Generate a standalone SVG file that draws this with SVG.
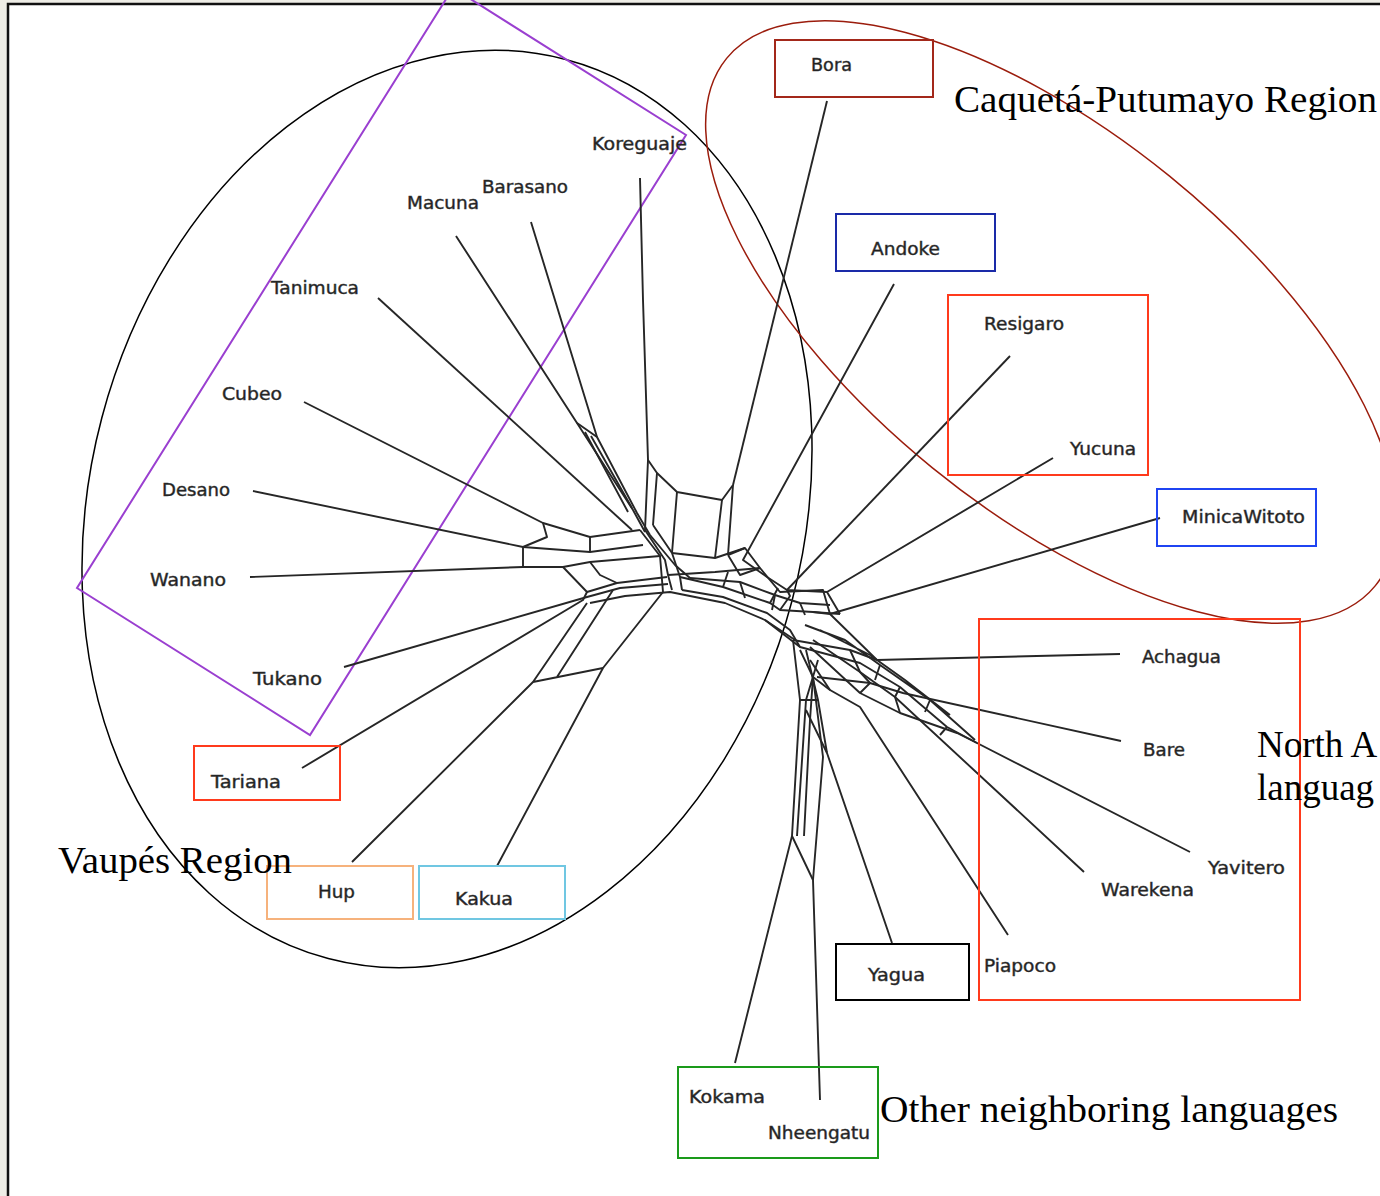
<svg xmlns="http://www.w3.org/2000/svg" width="1380" height="1196" viewBox="0 0 1380 1196">
<style>
.lb{font-family:"DejaVu Sans","Liberation Sans",sans-serif;font-size:17px;fill:#1e1e1e;stroke:#3a3a3a;stroke-width:0.45}
.rg{font-family:"Liberation Serif","DejaVu Serif",serif;font-size:37px;fill:#000}
.e{fill:none;stroke:#262626;stroke-width:1.9;stroke-linejoin:round}
.box{fill:none;stroke-width:2}
</style>
<rect x="0" y="0" width="1380" height="1196" fill="#eeede6"/>
<rect x="8" y="4" width="1390" height="1210" fill="#fff" stroke="#111" stroke-width="2.5"/>

<g id="regions">
<ellipse id="vaupes-ellipse" cx="447" cy="509" rx="357" ry="465" transform="rotate(14.8 447 509)" fill="none" stroke="#000" stroke-width="1.5"/>
<polygon id="tukanoan-rect" points="453,-12 686,135 310,735 77,588" fill="none" stroke="#9a3fd0" stroke-width="2"/>
<ellipse id="caqueta-ellipse" cx="1051" cy="322" rx="418" ry="188" transform="rotate(39.1 1051 322)" fill="none" stroke="#9b1c0c" stroke-width="1.5"/>
</g>

<g id="connectors">
<path class="e" d="M640,178 L643,300 L648,460 L645,530"/>
<path class="e" d="M531,222 L597,437 L637,513 L650,535"/>
<path class="e" d="M456,236 L577,423 L633,510 L645,532"/>
<path class="e" d="M577,423 L597,437 M585,432 L628,512 M591,436 L632,508"/>
<path class="e" d="M378,298 L632,530"/>
<path class="e" d="M304,402 L543,523 L590,537 L640,530"/>
<path class="e" d="M253,491 L523,547 L590,552 L643,545"/>
<path class="e" d="M250,577 L523,567 L563,567 L590,562 L660,556"/>
<path class="e" d="M543,523 L547,537 L523,547 L523,567"/>
<path class="e" d="M563,567 L587,592 L617,583 L667,577"/>
<path class="e" d="M590,537 L590,552 M590,562 L600,575 L617,583"/>
<path class="e" d="M344,667 L587,597 L620,588 L668,584"/>
<path class="e" d="M302,768 L583,600 L587,592"/>
<path class="e" d="M590,603 L625,596 L670,592 L725,603 L765,620 L795,640"/>
<path class="e" d="M352,862 L533,682 L587,603 M533,682 L603,668 M557,677 L613,590"/>
<path class="e" d="M497,866 L603,668 L663,592"/>
<path class="e" d="M648,460 L657,473 L677,492 L722,500 L733,485"/>
<path class="e" d="M657,473 L653,525 M677,492 L672,553 M722,500 L715,558 M733,485 L728,555"/>
<path class="e" d="M827,101 L733,485"/>
<path class="e" d="M645,530 L665,560 L668,575 L672,590 M653,525 L672,553 L680,577 L682,590 M640,530 L660,556 L663,592"/>
<path class="e" d="M650,535 L675,565 L690,578 M672,553 L715,558 L745,548"/>
<path class="e" d="M894,284 L743,560 L767,577 L787,590 L827,592"/>
<path class="e" d="M1010,356 L787,590"/>
<path class="e" d="M1053,458 L827,592 L840,614"/>
<path class="e" d="M728,555 L745,548 L760,568 L740,575 L728,555"/>
<path class="e" d="M680,577 L723,587 L770,603 L780,610 L813,612 L840,614"/>
<path class="e" d="M682,590 L723,597 L767,613 L790,630 L800,647"/>
<path class="e" d="M690,578 L740,582 L775,595 L800,603 L830,605"/>
<path class="e" d="M740,582 L745,598 M775,595 L772,610 M800,603 L805,615"/>
<path class="e" d="M668,575 L715,572 L760,568 M723,587 L728,572 M770,603 L778,588 M780,610 L790,596 L787,590"/>
<path class="e" d="M1160,518 L830,614 L813,612"/>
<path class="e" d="M760,568 L780,592 L823,590 L830,614"/>
<path class="e" d="M1120,654 L877,660"/>
<path class="e" d="M830,614 L877,660 M793,640 L850,650 L877,660"/>
<path class="e" d="M1121,741 L903,693 L870,683 L817,677"/>
<path class="e" d="M1190,852 L977,743 L947,727 L900,687 L860,663 L800,647 L765,620"/>
<path class="e" d="M1084,872 L895,697 L860,672 L813,640"/>
<path class="e" d="M810,647 L860,693 L900,713 L957,733 L977,743"/>
<path class="e" d="M805,625 L845,640 L880,665 L930,700 L975,740 M820,630 L870,655 L905,680 L950,715"/>
<path class="e" d="M850,650 L860,672 L870,683 L860,693 M900,687 L895,697 L900,713 M947,727 L940,735 M880,665 L875,680 M930,700 L925,712"/>
<path class="e" d="M1008,935 L860,707 L830,690 L810,660"/>
<path class="e" d="M892,943 L827,753 L818,700 L806,650"/>
<path class="e" d="M735,1063 L792,836 L800,700 L793,640"/>
<path class="e" d="M820,1100 L813,880 L792,836"/>
<path class="e" d="M813,880 L823,757 L813,677 L800,650"/>
<path class="e" d="M797,836 L806,700 L818,660 M804,836 L810,720 L813,677"/>
<path class="e" d="M800,700 L818,700 M806,710 L827,753 M813,677 L830,690"/>
</g>

<g id="boxes">
<rect x="775" y="40" width="158" height="57" class="box" stroke="#a3281a"/>
<rect x="836" y="214" width="159" height="57" class="box" stroke="#1a2aa8"/>
<rect x="948" y="295" width="200" height="180" class="box" stroke="#ff3a1c"/>
<rect x="1157" y="489" width="159" height="57" class="box" stroke="#1f44f2"/>
<rect x="979" y="619" width="321" height="381" class="box" stroke="#ff3a1c"/>
<rect x="194" y="746" width="146" height="54" class="box" stroke="#ff3a1c"/>
<rect x="267" y="866" width="146" height="53" class="box" stroke="#f6b27c"/>
<rect x="419" y="866" width="146" height="53" class="box" stroke="#70c7e2"/>
<rect x="836" y="944" width="133" height="56" class="box" stroke="#000"/>
<rect x="678" y="1067" width="200" height="91" class="box" stroke="#1a9a1a"/>
</g>

<g id="n-koreguaje"><text class="lb" x="592" y="150" textLength="95" lengthAdjust="spacingAndGlyphs">Koreguaje</text></g>
<g id="n-barasano"><text class="lb" x="482" y="193" textLength="86" lengthAdjust="spacingAndGlyphs">Barasano</text></g>
<g id="n-macuna"><text class="lb" x="407" y="209" textLength="72" lengthAdjust="spacingAndGlyphs">Macuna</text></g>
<g id="n-tanimuca"><text class="lb" x="271" y="294" textLength="88" lengthAdjust="spacingAndGlyphs">Tanimuca</text></g>
<g id="n-cubeo"><text class="lb" x="222" y="400" textLength="60" lengthAdjust="spacingAndGlyphs">Cubeo</text></g>
<g id="n-desano"><text class="lb" x="162" y="496" textLength="68" lengthAdjust="spacingAndGlyphs">Desano</text></g>
<g id="n-wanano"><text class="lb" x="150" y="586" textLength="76" lengthAdjust="spacingAndGlyphs">Wanano</text></g>
<g id="n-tukano"><text class="lb" x="253" y="685" textLength="69" lengthAdjust="spacingAndGlyphs">Tukano</text></g>
<g id="n-tariana"><text class="lb" x="211" y="788" textLength="70" lengthAdjust="spacingAndGlyphs">Tariana</text></g>
<g id="n-hup"><text class="lb" x="318" y="898" textLength="37" lengthAdjust="spacingAndGlyphs">Hup</text></g>
<g id="n-kakua"><text class="lb" x="455" y="905" textLength="58" lengthAdjust="spacingAndGlyphs">Kakua</text></g>
<g id="n-bora"><text class="lb" x="811" y="71" textLength="41" lengthAdjust="spacingAndGlyphs">Bora</text></g>
<g id="n-andoke"><text class="lb" x="871" y="255" textLength="69" lengthAdjust="spacingAndGlyphs">Andoke</text></g>
<g id="n-resigaro"><text class="lb" x="984" y="330" textLength="80" lengthAdjust="spacingAndGlyphs">Resigaro</text></g>
<g id="n-yucuna"><text class="lb" x="1070" y="455" textLength="66" lengthAdjust="spacingAndGlyphs">Yucuna</text></g>
<g id="n-minicawitoto"><text class="lb" x="1182" y="523" textLength="123" lengthAdjust="spacingAndGlyphs">MinicaWitoto</text></g>
<g id="n-achagua"><text class="lb" x="1142" y="663" textLength="79" lengthAdjust="spacingAndGlyphs">Achagua</text></g>
<g id="n-bare"><text class="lb" x="1143" y="756" textLength="42" lengthAdjust="spacingAndGlyphs">Bare</text></g>
<g id="n-yavitero"><text class="lb" x="1208" y="874" textLength="77" lengthAdjust="spacingAndGlyphs">Yavitero</text></g>
<g id="n-warekena"><text class="lb" x="1101" y="896" textLength="93" lengthAdjust="spacingAndGlyphs">Warekena</text></g>
<g id="n-piapoco"><text class="lb" x="984" y="972" textLength="72" lengthAdjust="spacingAndGlyphs">Piapoco</text></g>
<g id="n-yagua"><text class="lb" x="868" y="981" textLength="57" lengthAdjust="spacingAndGlyphs">Yagua</text></g>
<g id="n-kokama"><text class="lb" x="689" y="1103" textLength="76" lengthAdjust="spacingAndGlyphs">Kokama</text></g>
<g id="n-nheengatu"><text class="lb" x="768" y="1139" textLength="102" lengthAdjust="spacingAndGlyphs">Nheengatu</text></g>

<g id="region-labels">
<text class="rg" x="954" y="112" textLength="423" lengthAdjust="spacingAndGlyphs">Caquetá-Putumayo Region</text>
<text class="rg" x="58" y="873" textLength="234" lengthAdjust="spacingAndGlyphs">Vaupés Region</text>
<text class="rg" x="880" y="1122" textLength="458" lengthAdjust="spacingAndGlyphs">Other neighboring languages</text>
<text class="rg" x="1257" y="757">North A</text>
<text class="rg" x="1257" y="800">languag</text>
</g>
</svg>
